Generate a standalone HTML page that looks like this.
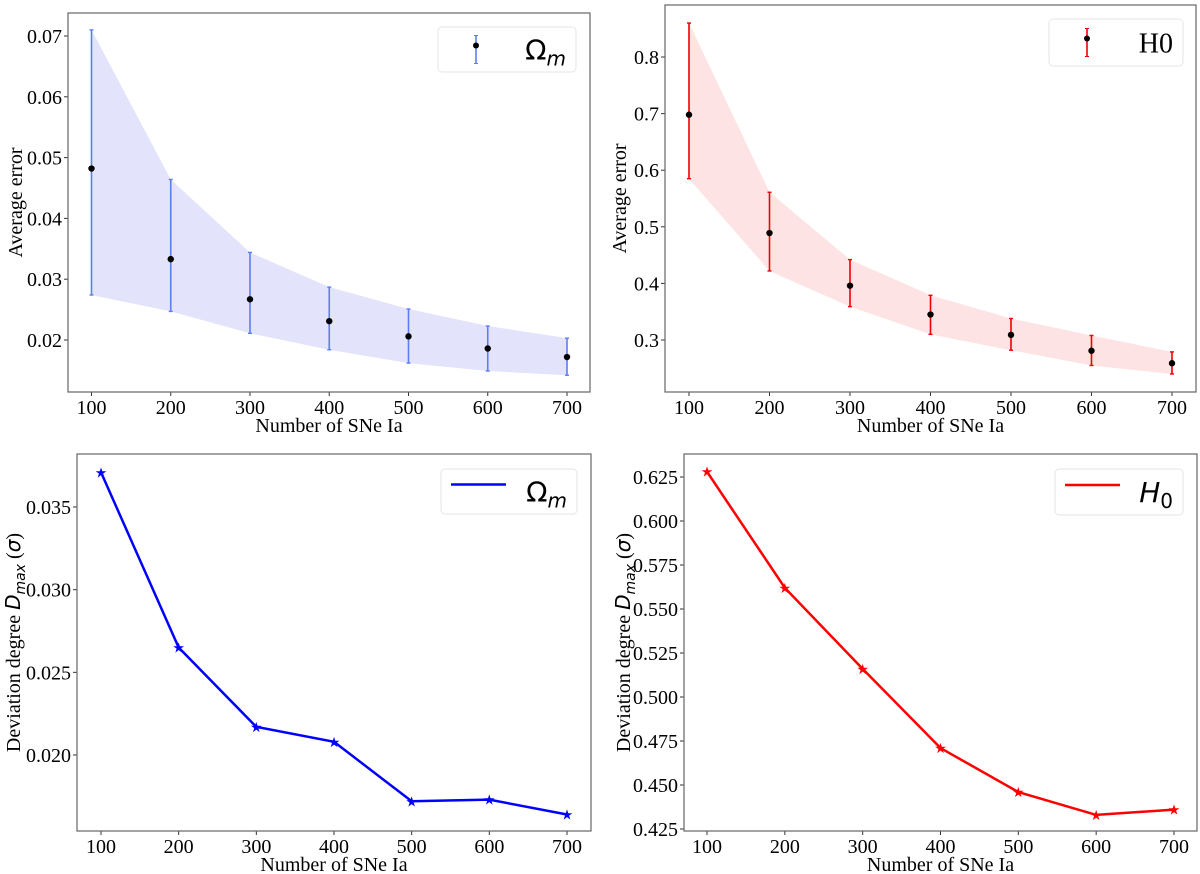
<!DOCTYPE html>
<html><head><meta charset="utf-8"><style>
body{margin:0;background:#fff;}
svg{display:block;}
text{font-family:"Liberation Serif",serif;fill:#000;}
</style></head><body>
<svg id="fig" width="1200" height="874" viewBox="0 0 1200 874" xmlns="http://www.w3.org/2000/svg"></svg>
<script>
const xs=[100,200,300,400,500,600,700];
const omMean=[0.0482,0.0333,0.0267,0.0231,0.0206,0.0186,0.0172];
const omUpper=[0.071,0.0464,0.0344,0.0287,0.0251,0.0223,0.0203];
const omLower=[0.0274,0.0247,0.0211,0.0184,0.0162,0.0149,0.0142];
const h0Mean=[0.698,0.489,0.396,0.345,0.309,0.281,0.259];
const h0Upper=[0.86,0.561,0.442,0.379,0.338,0.308,0.279];
const h0Lower=[0.585,0.422,0.359,0.31,0.282,0.255,0.24];
const omDev=[0.0371,0.0265,0.0217,0.0208,0.0172,0.0173,0.0164];
const h0Dev=[0.628,0.562,0.516,0.471,0.446,0.433,0.436];
const xTicks=[100,200,300,400,500,600,700];
const yTicksA=[0.02,0.03,0.04,0.05,0.06,0.07];
const yTicksB=[0.3,0.4,0.5,0.6,0.7,0.8];
const yTicksC=[0.020,0.025,0.030,0.035];
const yTicksD=[0.425,0.450,0.475,0.500,0.525,0.550,0.575,0.600,0.625];

const NS='http://www.w3.org/2000/svg';
const svg=document.getElementById('fig');
function mk(tag,attrs,parent,txt){const e=document.createElementNS(NS,tag);for(const k in attrs)e.setAttribute(k,attrs[k]);if(txt!==undefined)e.textContent=txt;(parent||svg).appendChild(e);return e;}

function panel(cfg){
  const g=mk('g',{});
  
  
  const X=v=>cfg.x0+(v-100)/600*(cfg.x1-cfg.x0);
  const Y=v=>cfg.ya+(v-cfg.va)/(cfg.vb-cfg.va)*(cfg.yb-cfg.ya);
  // ticks
  xTicks.forEach(t=>{
    mk('line',{x1:X(t),x2:X(t),y1:cfg.B,y2:cfg.B+4,stroke:'#333'},g);
    const tl=mk('text',{x:X(t),y:cfg.B+22,'font-size':20,'text-anchor':'middle'},g,String(t));
    
    
  });
  cfg.yt.forEach(t=>{
    mk('line',{x1:cfg.L-4,x2:cfg.L,y1:Y(t),y2:Y(t),stroke:'#333'},g);
    const tl=mk('text',{x:cfg.L-6,y:Y(t)+7,'font-size':20,'text-anchor':'end'},g,t.toFixed(cfg.dec));
    
    
  });
  const xt=mk('text',{x:(cfg.L+cfg.R)/2,y:cfg.B+40,'font-size':20,'text-anchor':'middle'},g,'Number of SNe Ia');
  
  
  const yt=mk('text',{transform:`translate(${cfg.ylx},${(cfg.T+cfg.B)/2}) rotate(-90)`,'font-size':20,'text-anchor':'middle'},g);
  
  
  if(cfg.dev){
    mk('tspan',{},yt,'Deviation degree ');
    mk('tspan',{'font-family':'DejaVu Sans, sans-serif','font-style':'italic'},yt,'D');
    mk('tspan',{'font-family':'DejaVu Sans, sans-serif','font-style':'italic','font-size':14,dy:5},yt,'max');
    mk('tspan',{dy:-5},yt,' (');
    mk('tspan',{'font-family':'DejaVu Sans, sans-serif','font-style':'italic'},yt,'σ');
    mk('tspan',{},yt,')');
  } else yt.textContent='Average error';
  // data
  if(cfg.mean){
    let pts=xs.map((x,i)=>X(x)+','+Y(cfg.up[i])).concat(xs.slice().reverse().map((x,j)=>{const i=xs.length-1-j;return X(x)+','+Y(cfg.lo[i]);}));
    const band=mk('polygon',{points:pts.join(' '),fill:cfg.fill,stroke:'none'},g);
    
    
    xs.forEach((x,i)=>{
      const eb=mk('g',{},g);
      
      
      mk('line',{x1:X(x),x2:X(x),y1:Y(cfg.up[i]),y2:Y(cfg.lo[i]),stroke:cfg.col,'stroke-width':1.6},eb);
      mk('line',{x1:X(x)-2,x2:X(x)+2,y1:Y(cfg.up[i]),y2:Y(cfg.up[i]),stroke:cfg.col,'stroke-width':1.4},eb);
      mk('line',{x1:X(x)-2,x2:X(x)+2,y1:Y(cfg.lo[i]),y2:Y(cfg.lo[i]),stroke:cfg.col,'stroke-width':1.4},eb);
      const p=mk('circle',{cx:X(x),cy:Y(cfg.mean[i]),r:3.2,fill:'#000'},eb);
      
      
    });
  } else {
    const ln=mk('polyline',{points:xs.map((x,i)=>X(x)+','+Y(cfg.dev[i])).join(' '),fill:'none',stroke:cfg.col,'stroke-width':2.5},g);
    
    
    xs.forEach((x,i)=>{
      const s=mk('text',{x:X(x),y:Y(cfg.dev[i])+5,'font-size':14,'text-anchor':'middle',fill:cfg.col,style:'fill:'+cfg.col,'font-family':'DejaVu Sans'},g,'★');
      
      
    });
  }
  mk('rect',{x:cfg.L,y:cfg.T,width:cfg.R-cfg.L,height:cfg.B-cfg.T,fill:'none',stroke:'#666','stroke-width':1.2},g);
  // legend
  const lg=mk('g',{},g);
  
  
  const lb=cfg.leg;
  mk('rect',{x:lb[0],y:lb[1],width:lb[2]-lb[0],height:lb[3]-lb[1],rx:4,fill:'#fff',stroke:'#e6e6e6'},lg);
  const cy=(lb[1]+lb[3])/2;
  if(cfg.mean){
    const mx=lb[0]+38;
    mk('line',{x1:mx,x2:mx,y1:cy-14,y2:cy+14,stroke:cfg.col,'stroke-width':1.6},lg);
    mk('line',{x1:mx-2,x2:mx+2,y1:cy-14,y2:cy-14,stroke:cfg.col},lg);
    mk('line',{x1:mx-2,x2:mx+2,y1:cy+14,y2:cy+14,stroke:cfg.col},lg);
    mk('circle',{cx:mx,cy:cy-4,r:3,fill:'#000'},lg);
  } else {
    mk('line',{x1:lb[0]+10,x2:lb[0]+65,y1:cy-7,y2:cy-7,stroke:cfg.col,'stroke-width':2.5},lg);
  }
  const lt=mk('text',{x:lb[2]-10,y:cy+10,'font-size':28,'text-anchor':'end'},lg);
  
  
  if(cfg.label==='om'){mk('tspan',{'font-family':'DejaVu Sans, sans-serif'},lt,'Ω');mk('tspan',{'font-family':'DejaVu Sans, sans-serif','font-style':'italic','font-size':20,dy:6},lt,'m');}
  else if(cfg.label==='H0'){lt.textContent='H0';}
  else {mk('tspan',{'font-family':'DejaVu Sans, sans-serif','font-style':'italic'},lt,'H');mk('tspan',{'font-family':'DejaVu Sans, sans-serif','font-size':20,dy:6},lt,'0');}
}

panel({name:'omega-m-average-error-panel',L:68,R:590,T:13,B:392,x0:91.5,x1:567,va:0.02,ya:340,vb:0.07,yb:36,yt:yTicksA,dec:2,ylx:22,
  mean:omMean,up:omUpper,lo:omLower,col:'#5b7ff0',fill:'#e3e3fb',leg:[438,27,576,72],label:'om'});
panel({name:'h0-average-error-panel',L:665,R:1196,T:5,B:392,x0:689,x1:1172,va:0.3,ya:340,vb:0.8,yb:57,yt:yTicksB,dec:1,ylx:626,
  mean:h0Mean,up:h0Upper,lo:h0Lower,col:'#f00000',fill:'#fde3e3',leg:[1049,19,1183,66],label:'H0'});
panel({name:'omega-m-deviation-panel',L:77,R:591,T:454,B:831,x0:101,x1:567,va:0.02,ya:755,vb:0.035,yb:507,yt:yTicksC,dec:3,ylx:20,
  dev:omDev,col:'#0000ff',leg:[441,469,577,514],label:'om'});
panel({name:'h0-deviation-panel',L:684,R:1197,T:454,B:831,x0:707,x1:1174,va:0.425,ya:829,vb:0.625,yb:477,yt:yTicksD,dec:3,ylx:630,
  dev:h0Dev,col:'#ff0000',leg:[1055,469,1183,515],label:'h0'});
</script>
</body></html>
